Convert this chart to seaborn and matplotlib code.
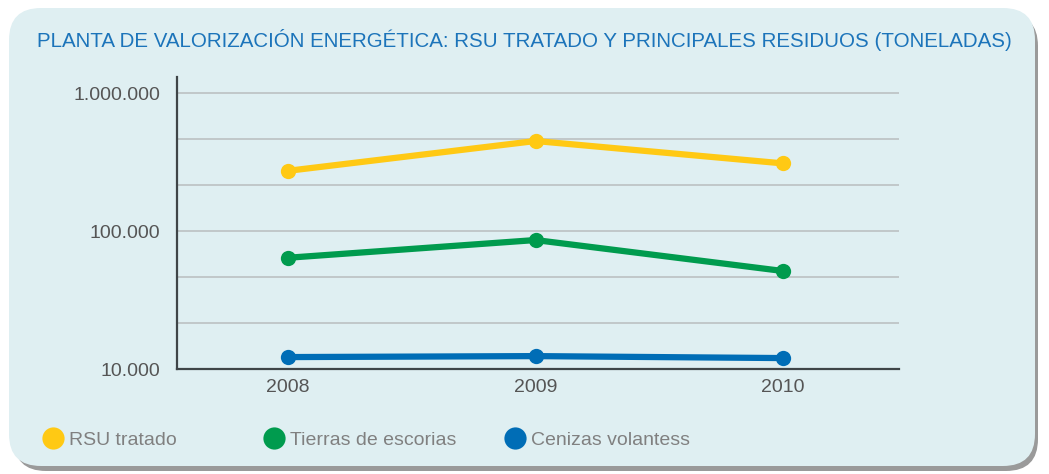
import numpy as np
import pandas as pd
import seaborn as sns
import matplotlib.pyplot as plt
from matplotlib.lines import Line2D
from matplotlib.patches import FancyBboxPatch

# Data (toneladas)
years = [2008, 2009, 2010]
rsu_tratado = [273000, 449000, 309000]
tierras_escorias = [64000, 86000, 51300]
cenizas_volantes = [12200, 12400, 12000]

series_names = ["RSU tratado", "Tierras de escorias", "Cenizas volantess"]
series_colors = ["#FFC914", "#009B4E", "#006DB6"]

y_major = [10000, 100000, 1000000]
y_major_labels = ["10.000", "100.000", "1.000.000"]

title = "PLANTA DE VALORIZACIÓN ENERGÉTICA: RSU TRATADO Y PRINCIPALES RESIDUOS (TONELADAS)"

# Long-format table for seaborn
df = pd.DataFrame({
    "year": years * 3,
    "value": rsu_tratado + tierras_escorias + cenizas_volantes,
    "serie": [s for s in series_names for _ in years],
})

sns.set_theme(style="white")
plt.rcParams["font.family"] = ["Liberation Sans", "DejaVu Sans"]

bg = "#DFEFF2"
fig = plt.figure(figsize=(10.49, 4.74), dpi=100)
fig.patch.set_facecolor("white")

# Rounded panel with a soft shadow
shadow = FancyBboxPatch((0.14, 0.03), 10.24, 4.57,
                        boxstyle="round,pad=0,rounding_size=0.32",
                        transform=fig.dpi_scale_trans, facecolor="#9A9A9A",
                        edgecolor="none", zorder=-3)
panel = FancyBboxPatch((0.09, 0.08), 10.26, 4.58,
                       boxstyle="round,pad=0,rounding_size=0.32",
                       transform=fig.dpi_scale_trans, facecolor=bg,
                       edgecolor="none", zorder=-2)
fig.patches.extend([shadow, panel])

ax = fig.add_axes([177 / 1049, 105 / 474, 722 / 1049, 292 / 474])
ax.set_facecolor("none")

sns.lineplot(data=df, x="year", y="value", hue="serie",
             palette=dict(zip(series_names, series_colors)),
             hue_order=series_names, marker="o", markersize=11,
             markeredgewidth=0, linewidth=4.5, ax=ax, legend=False,
             zorder=3)

ax.set_yscale("log")
ax.set_ylim(10000, 10 ** 6.116)
ax.set_xlim(2007.5515, 2010.4687)

ax.set_yticks(y_major)
ax.set_yticklabels(y_major_labels)
minor = [10 ** (d + k / 3) for d in range(4, 6) for k in (1, 2)]
ax.set_yticks(minor, minor=True)
ax.set_yticklabels([], minor=True)
ax.set_xticks(years)
ax.set_xticklabels([str(y) for y in years])

ax.grid(True, axis="y", which="both", color="#B8BDBE", linewidth=1.1, zorder=0)
ax.set_axisbelow(True)
ax.tick_params(axis="both", which="both", length=0, labelsize=14,
               labelcolor="#555555")
ax.tick_params(axis="y", pad=12)
ax.tick_params(axis="x", pad=7)
ax.set_xlabel("")
ax.set_ylabel("")

for side in ["top", "right"]:
    ax.spines[side].set_visible(False)
for side in ["left", "bottom"]:
    ax.spines[side].set_color("#3F4548")
    ax.spines[side].set_linewidth(1.6)

fig.text(37 / 1049, (474 - 47) / 474, title, color="#1C74BA",
         fontsize=14.8, ha="left", va="baseline")

# Legend: one entry per series, placed like the original
legend_left_px = [43, 264, 505]
for name, color, left in zip(series_names, series_colors, legend_left_px):
    handle = Line2D([], [], color=color, marker="o", markersize=16,
                    linestyle="none", markeredgewidth=0)
    fig.legend([handle], [name], loc="center left",
               bbox_to_anchor=(left / 1049, (474 - 440) / 474),
               frameon=False, fontsize=14, handlelength=1.0,
               handletextpad=0.35, borderpad=0, borderaxespad=0,
               labelcolor="#808080")

fig.savefig("out.png", dpi=100, facecolor="white")
